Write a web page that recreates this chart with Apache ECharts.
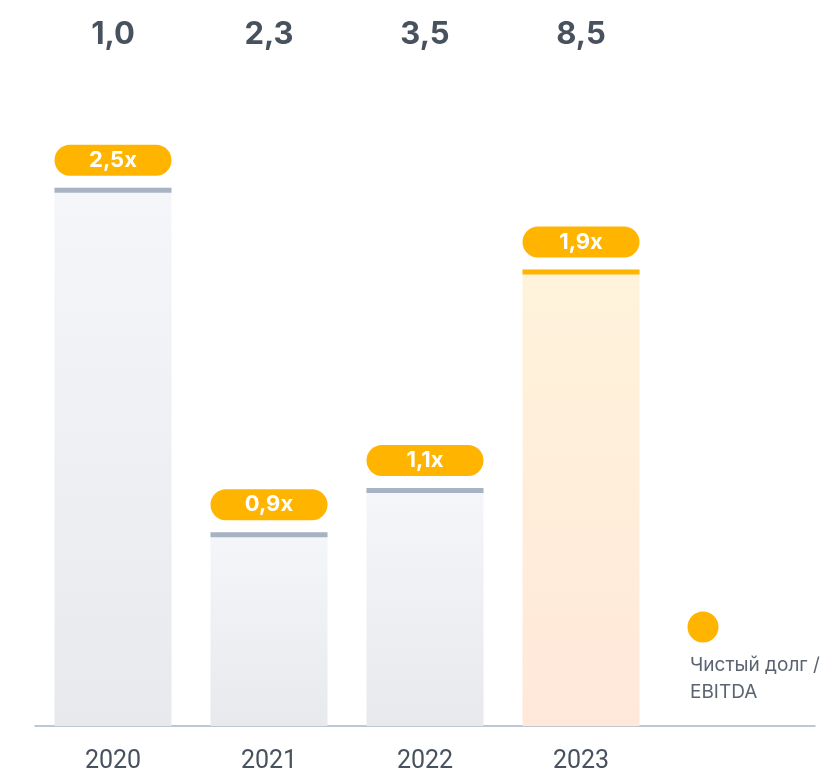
<!DOCTYPE html>
<html>
<head>
<meta charset="utf-8">
<script src="https://cdn.jsdelivr.net/npm/echarts@6/dist/echarts.min.js"></script>
<style>
  html, body { margin: 0; padding: 0; background: #fff; }
  #main { width: 835px; height: 774px; }
</style>
</head>
<body>
<div id="main"></div>
<script>
const years = ["2020", "2021", "2022", "2023", ""];
const topValues = ["1,0", "2,3", "3,5", "8,5", ""];
const ratioLabels = ["2,5x", "0,9x", "1,1x", "1,9x"];
// bar heights (same scale as the ratio)
const barHeights = [2.5, 0.9, 1.105, 2.12];

const chart = echarts.init(document.getElementById("main"));

const grayFill = new echarts.graphic.LinearGradient(0, 0, 0, 1, [
  { offset: 0, color: "#F4F6F9" },
  { offset: 1, color: "#E7E9EC" }
]);
const orangeFill = new echarts.graphic.LinearGradient(0, 0, 0, 1, [
  { offset: 0, color: "#FFF3DB" },
  { offset: 1, color: "#FFE8DA" }
]);

chart.setOption({
  animation: false,
  grid: { left: 35, right: 20, top: 80, bottom: 47 },
  xAxis: [
    {
      type: "category",
      data: years,
      axisLine: { lineStyle: { color: "#A9B6C6", width: 1.5 } },
      axisTick: { show: false },
      axisLabel: {
        color: "#48525E",
        fontSize: 25,
        fontFamily: "Roboto",
        margin: 23
      }
    },
    {
      type: "category",
      position: "top",
      data: topValues,
      axisLine: { show: false },
      axisTick: { show: false },
      axisLabel: {
        color: "#48525E",
        fontSize: 31,
        fontWeight: "bold",
        fontFamily: "Inter",
        margin: 30
      }
    }
  ],
  yAxis: {
    type: "value",
    min: 0,
    max: 3,
    show: false,
    splitLine: { show: false }
  },
  series: [
    {
      type: "bar",
      barWidth: 117,
      data: barHeights.map((v, i) => ({
        value: v,
        itemStyle: { color: i === 3 ? orangeFill : grayFill }
      })),
      label: {
        show: true,
        position: "top",
        distance: 12,
        formatter: (p) => ratioLabels[p.dataIndex],
        color: "#fff",
        fontSize: 22,
        fontWeight: "bold",
        fontFamily: "Inter",
        backgroundColor: "#FFB400",
        borderRadius: 16,
        width: 117,
        height: 31,
        lineHeight: 31,
        align: "center",
        padding: 0
      },
      z: 2
    },
    {
      type: "pictorialBar",
      symbol: "rect",
      symbolSize: [117, 5],
      symbolPosition: "end",
      symbolOffset: [0, 0],
      data: barHeights.map((v, i) => ({
        value: v,
        itemStyle: { color: i === 3 ? "#FFB400" : "#A7B3C2" }
      })),
      z: 3
    }
  ],
  title: {
    text: "Чистый долг /\nEBITDA",
    left: 685,
    top: 647,
    textStyle: {
      color: "#5B6470",
      fontSize: 19,
      fontWeight: "normal",
      fontFamily: "Inter",
      lineHeight: 27
    }
  },
  graphic: [
    {
      type: "circle",
      shape: { cx: 703, cy: 627, r: 15.5 },
      style: { fill: "#FFB400" }
    }
  ]
});
</script>
</body>
</html>
